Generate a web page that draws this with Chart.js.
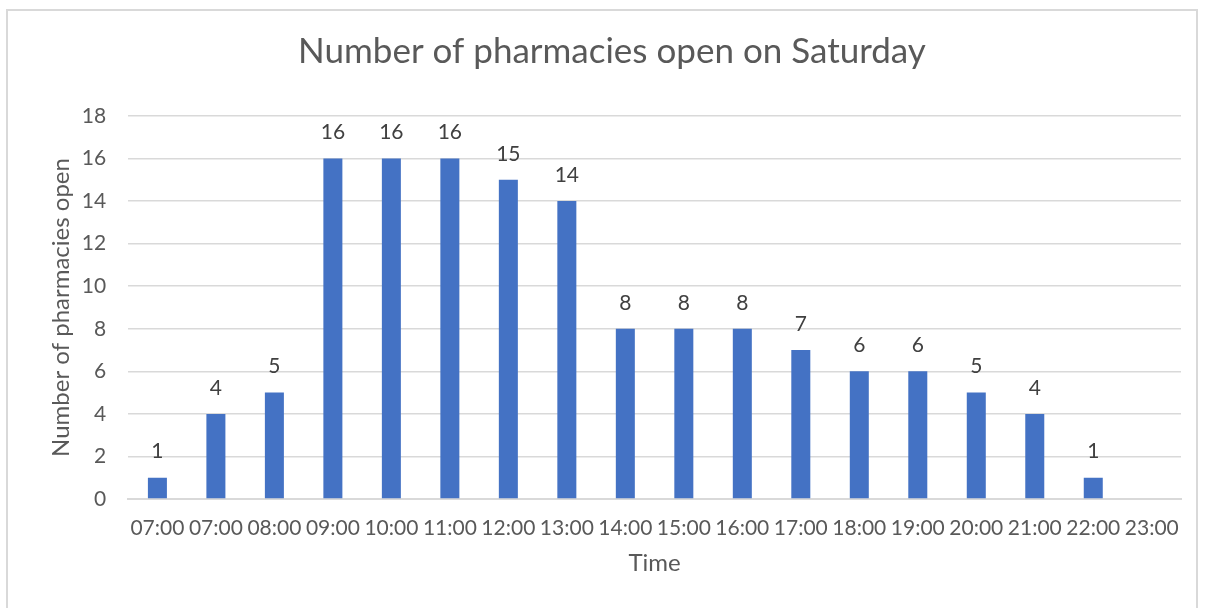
<!DOCTYPE html>
<html>
<head>
<meta charset="utf-8">
<script src="https://cdn.jsdelivr.net/npm/chart.js@4.4.0/dist/chart.umd.min.js"></script>
<style>
  html, body { margin: 0; padding: 0; background: #fff; overflow: hidden; }
  #frame {
    position: absolute; left: 6px; top: 9px; width: 1192px; height: 640px;
    border: 2px solid #D9D9D9; box-sizing: border-box;
  }
  #wrap { position: absolute; left: 0; top: 0; width: 1205px; height: 608px; }
</style>
</head>
<body>
<div id="frame"></div>
<div id="wrap"><canvas id="chart"></canvas></div>
<script>
const hours = ['07:00', '07:00', '08:00', '09:00', '10:00', '11:00', '12:00', '13:00', '14:00',
               '15:00', '16:00', '17:00', '18:00', '19:00', '20:00', '21:00', '22:00', '23:00'];
const pharmaciesOpen = [1, 4, 5, 16, 16, 16, 15, 14, 8, 8, 8, 7, 6, 6, 5, 4, 1, null];
const yTicks = [0, 2, 4, 6, 8, 10, 12, 14, 16, 18];

const textColor = '#595959';
const fontFamily = 'Lato, "Open Sans", sans-serif';

// draws the value above each bar
const valueLabels = {
    id: 'valueLabels',
    afterDatasetsDraw(chart) {
        const ctx = chart.ctx;
        const meta = chart.getDatasetMeta(0);
        ctx.save();
        ctx.fillStyle = '#404040';
        ctx.font = '21px ' + fontFamily;
        ctx.textAlign = 'center';
        ctx.textBaseline = 'middle';
        meta.data.forEach((bar, i) => {
            const v = pharmaciesOpen[i];
            if (v === null) return;
            ctx.fillText(String(v), bar.x, bar.y - 26);
        });
        ctx.restore();
    }
};

const ctx = document.getElementById('chart').getContext('2d');
new Chart(ctx, {
    type: 'bar',
    data: {
        labels: hours,
        datasets: [{
            label: 'Number of pharmacies open',
            data: pharmaciesOpen,
            backgroundColor: '#4472C4',
            barPercentage: 0.325,
            categoryPercentage: 1.0
        }]
    },
    options: {
        responsive: true,
        maintainAspectRatio: false,
        animation: false,
        layout: { padding: { left: 43, right: 24, top: 22, bottom: 26 } },
        plugins: {
            legend: { display: false },
            tooltip: { enabled: false },
            title: {
                display: true,
                text: 'Number of pharmacies open on Saturday',
                color: textColor,
                font: { family: fontFamily, size: 35, weight: 'normal' },
                padding: { top: 9, bottom: 43 }
            }
        },
        scales: {
            x: {
                grid: { display: false, drawTicks: false },
                border: { display: true, color: '#D9D9D9', width: 2 },
                ticks: {
                    color: textColor,
                    font: { family: fontFamily, size: 21 },
                    padding: 17,
                    maxRotation: 0,
                    autoSkip: false
                },
                title: {
                    display: true,
                    text: 'Time',
                    color: textColor,
                    font: { family: fontFamily, size: 24 },
                    padding: { top: -9 }
                }
            },
            y: {
                min: 0,
                max: 18,
                afterBuildTicks: axis => { axis.ticks = yTicks.map(v => ({ value: v })); },
                grid: { color: '#D9D9D9', lineWidth: 1.5, drawTicks: false },
                border: { display: false },
                ticks: {
                    color: textColor,
                    font: { family: fontFamily, size: 21 },
                    padding: 22
                },
                title: {
                    display: true,
                    text: 'Number of pharmacies open',
                    color: textColor,
                    font: { family: fontFamily, size: 24 },
                    padding: { top: 4, bottom: -16 }
                }
            }
        }
    },
    plugins: [valueLabels]
});
</script>
</body>
</html>
